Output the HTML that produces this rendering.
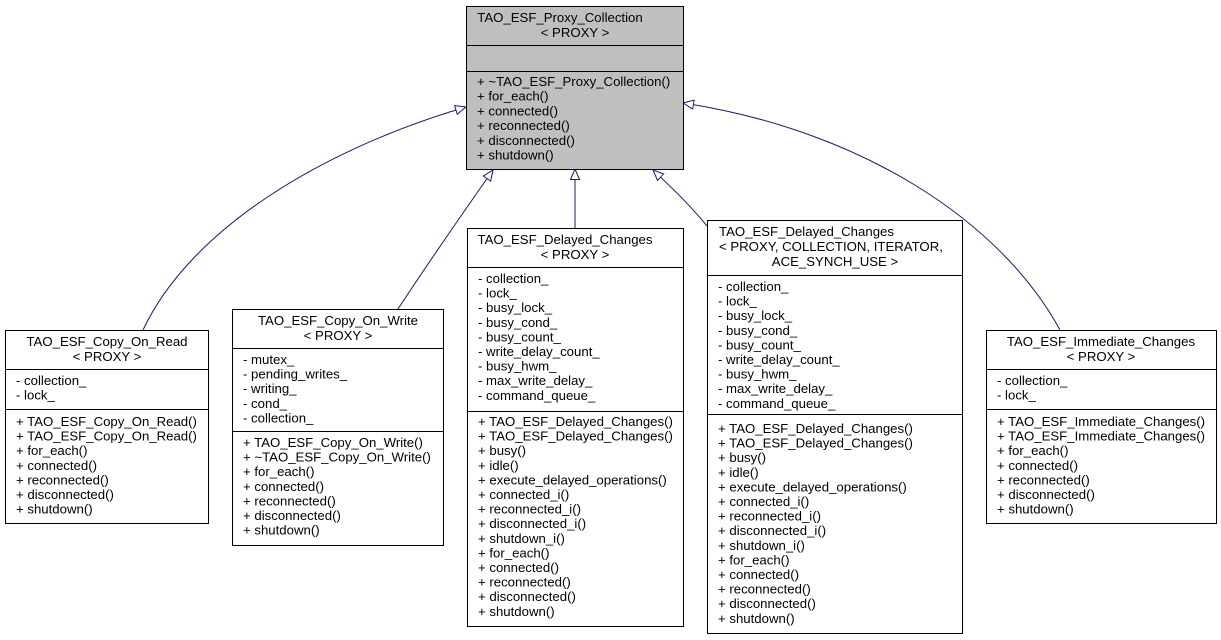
<!DOCTYPE html>
<html><head><meta charset="utf-8"><style>
html,body{margin:0;padding:0;background:#fff;}
svg{display:block;}
text{font-family:"Liberation Sans",sans-serif;font-size:13.2px;fill:#000;}
.b{fill:#fff;stroke:#000;stroke-width:1;}
.e{fill:none;stroke:#191970;stroke-width:1;}
</style></head><body>
<svg width="1221" height="640" viewBox="0 0 1221 640" xmlns="http://www.w3.org/2000/svg">
<defs>
<marker id="a" markerUnits="userSpaceOnUse" markerWidth="14" markerHeight="12" refX="11" refY="5" orient="auto">
<polygon points="0.5,0.5 11,5 0.5,9.5" fill="#fff" stroke="#191970" stroke-width="1"/>
</marker>
</defs>

<path class="e" d="M143,330 C190,230 320,150 466,107" marker-end="url(#a)"/>
<path class="e" d="M398,309 C430,260 465,210 493,170" marker-end="url(#a)"/>
<path class="e" d="M575,228 L575,169" marker-end="url(#a)"/>
<path class="e" d="M707,226 C690,205 672,188 653,170" marker-end="url(#a)"/>
<path class="e" d="M1060,330 C1000,220 860,130 683,103" marker-end="url(#a)"/>

<rect x="466.5" y="6.5" width="217" height="163" fill="#bfbfbf" stroke="#000"/>
<line x1="466.5" y1="45.5" x2="683.5" y2="45.5" stroke="#000"/>
<line x1="466.5" y1="71.5" x2="683.5" y2="71.5" stroke="#000"/>
<text x="560" y="22" text-anchor="middle">TAO_ESF_Proxy_Collection</text>
<text x="575" y="37" text-anchor="middle">&lt; PROXY &gt;</text>
<g transform="translate(477,86)">
<text y="0">+ ~TAO_ESF_Proxy_Collection()</text>
<text y="14.7">+ for_each()</text>
<text y="29.4">+ connected()</text>
<text y="44.1">+ reconnected()</text>
<text y="58.8">+ disconnected()</text>
<text y="73.5">+ shutdown()</text>
</g>

<rect class="b" x="5.5" y="330.5" width="203" height="193"/>
<line x1="5.5" y1="369.5" x2="208.5" y2="369.5" stroke="#000"/>
<line x1="5.5" y1="409.5" x2="208.5" y2="409.5" stroke="#000"/>
<text x="107" y="346" text-anchor="middle">TAO_ESF_Copy_On_Read</text>
<text x="107" y="361" text-anchor="middle">&lt; PROXY &gt;</text>
<g transform="translate(16,385)">
<text y="0">- collection_</text>
<text y="14.6">- lock_</text>
</g>
<g transform="translate(16,426)">
<text y="0">+ TAO_ESF_Copy_On_Read()</text>
<text y="14.6">+ TAO_ESF_Copy_On_Read()</text>
<text y="29.2">+ for_each()</text>
<text y="43.8">+ connected()</text>
<text y="58.4">+ reconnected()</text>
<text y="73">+ disconnected()</text>
<text y="87.6">+ shutdown()</text>
</g>

<rect class="b" x="232.5" y="309.5" width="211" height="236"/>
<line x1="232.5" y1="348.5" x2="443.5" y2="348.5" stroke="#000"/>
<line x1="232.5" y1="431.5" x2="443.5" y2="431.5" stroke="#000"/>
<text x="338" y="325" text-anchor="middle">TAO_ESF_Copy_On_Write</text>
<text x="338" y="340" text-anchor="middle">&lt; PROXY &gt;</text>
<g transform="translate(243,364)">
<text y="0">- mutex_</text>
<text y="14.6">- pending_writes_</text>
<text y="29.2">- writing_</text>
<text y="43.8">- cond_</text>
<text y="58.4">- collection_</text>
</g>
<g transform="translate(243,447)">
<text y="0">+ TAO_ESF_Copy_On_Write()</text>
<text y="14.6">+ ~TAO_ESF_Copy_On_Write()</text>
<text y="29.2">+ for_each()</text>
<text y="43.8">+ connected()</text>
<text y="58.4">+ reconnected()</text>
<text y="73">+ disconnected()</text>
<text y="87.6">+ shutdown()</text>
</g>

<rect class="b" x="467.5" y="228.5" width="216" height="398"/>
<line x1="467.5" y1="267.5" x2="683.5" y2="267.5" stroke="#000"/>
<line x1="467.5" y1="411.5" x2="683.5" y2="411.5" stroke="#000"/>
<text x="565" y="244" text-anchor="middle">TAO_ESF_Delayed_Changes</text>
<text x="575" y="259" text-anchor="middle">&lt; PROXY &gt;</text>
<g transform="translate(478,283)">
<text y="0">- collection_</text>
<text y="14.6">- lock_</text>
<text y="29.2">- busy_lock_</text>
<text y="43.8">- busy_cond_</text>
<text y="58.4">- busy_count_</text>
<text y="73">- write_delay_count_</text>
<text y="87.6">- busy_hwm_</text>
<text y="102.2">- max_write_delay_</text>
<text y="116.8">- command_queue_</text>
</g>
<g transform="translate(478,426)">
<text y="0">+ TAO_ESF_Delayed_Changes()</text>
<text y="14.6">+ TAO_ESF_Delayed_Changes()</text>
<text y="29.2">+ busy()</text>
<text y="43.8">+ idle()</text>
<text y="58.4">+ execute_delayed_operations()</text>
<text y="73">+ connected_i()</text>
<text y="87.6">+ reconnected_i()</text>
<text y="102.2">+ disconnected_i()</text>
<text y="116.8">+ shutdown_i()</text>
<text y="131.4">+ for_each()</text>
<text y="146">+ connected()</text>
<text y="160.6">+ reconnected()</text>
<text y="175.2">+ disconnected()</text>
<text y="189.8">+ shutdown()</text>
</g>

<rect class="b" x="707.5" y="220.5" width="255" height="413"/>
<line x1="707.5" y1="275.5" x2="962.5" y2="275.5" stroke="#000"/>
<line x1="707.5" y1="414.5" x2="962.5" y2="414.5" stroke="#000"/>
<text x="719" y="236">TAO_ESF_Delayed_Changes</text>
<text x="719" y="251">&lt; PROXY, COLLECTION, ITERATOR,</text>
<text x="835" y="266" text-anchor="middle">ACE_SYNCH_USE &gt;</text>
<g transform="translate(718,291)">
<text y="0">- collection_</text>
<text y="14.6">- lock_</text>
<text y="29.2">- busy_lock_</text>
<text y="43.8">- busy_cond_</text>
<text y="58.4">- busy_count_</text>
<text y="73">- write_delay_count_</text>
<text y="87.6">- busy_hwm_</text>
<text y="102.2">- max_write_delay_</text>
<text y="116.8">- command_queue_</text>
</g>
<g transform="translate(718,433)">
<text y="0">+ TAO_ESF_Delayed_Changes()</text>
<text y="14.6">+ TAO_ESF_Delayed_Changes()</text>
<text y="29.2">+ busy()</text>
<text y="43.8">+ idle()</text>
<text y="58.4">+ execute_delayed_operations()</text>
<text y="73">+ connected_i()</text>
<text y="87.6">+ reconnected_i()</text>
<text y="102.2">+ disconnected_i()</text>
<text y="116.8">+ shutdown_i()</text>
<text y="131.4">+ for_each()</text>
<text y="146">+ connected()</text>
<text y="160.6">+ reconnected()</text>
<text y="175.2">+ disconnected()</text>
<text y="189.8">+ shutdown()</text>
</g>

<rect class="b" x="986.5" y="330.5" width="230" height="193"/>
<line x1="986.5" y1="369.5" x2="1216.5" y2="369.5" stroke="#000"/>
<line x1="986.5" y1="409.5" x2="1216.5" y2="409.5" stroke="#000"/>
<text x="1101" y="346" text-anchor="middle">TAO_ESF_Immediate_Changes</text>
<text x="1101" y="361" text-anchor="middle">&lt; PROXY &gt;</text>
<g transform="translate(997,385)">
<text y="0">- collection_</text>
<text y="14.6">- lock_</text>
</g>
<g transform="translate(997,426)">
<text y="0">+ TAO_ESF_Immediate_Changes()</text>
<text y="14.6">+ TAO_ESF_Immediate_Changes()</text>
<text y="29.2">+ for_each()</text>
<text y="43.8">+ connected()</text>
<text y="58.4">+ reconnected()</text>
<text y="73">+ disconnected()</text>
<text y="87.6">+ shutdown()</text>
</g>
</svg>
</body></html>
